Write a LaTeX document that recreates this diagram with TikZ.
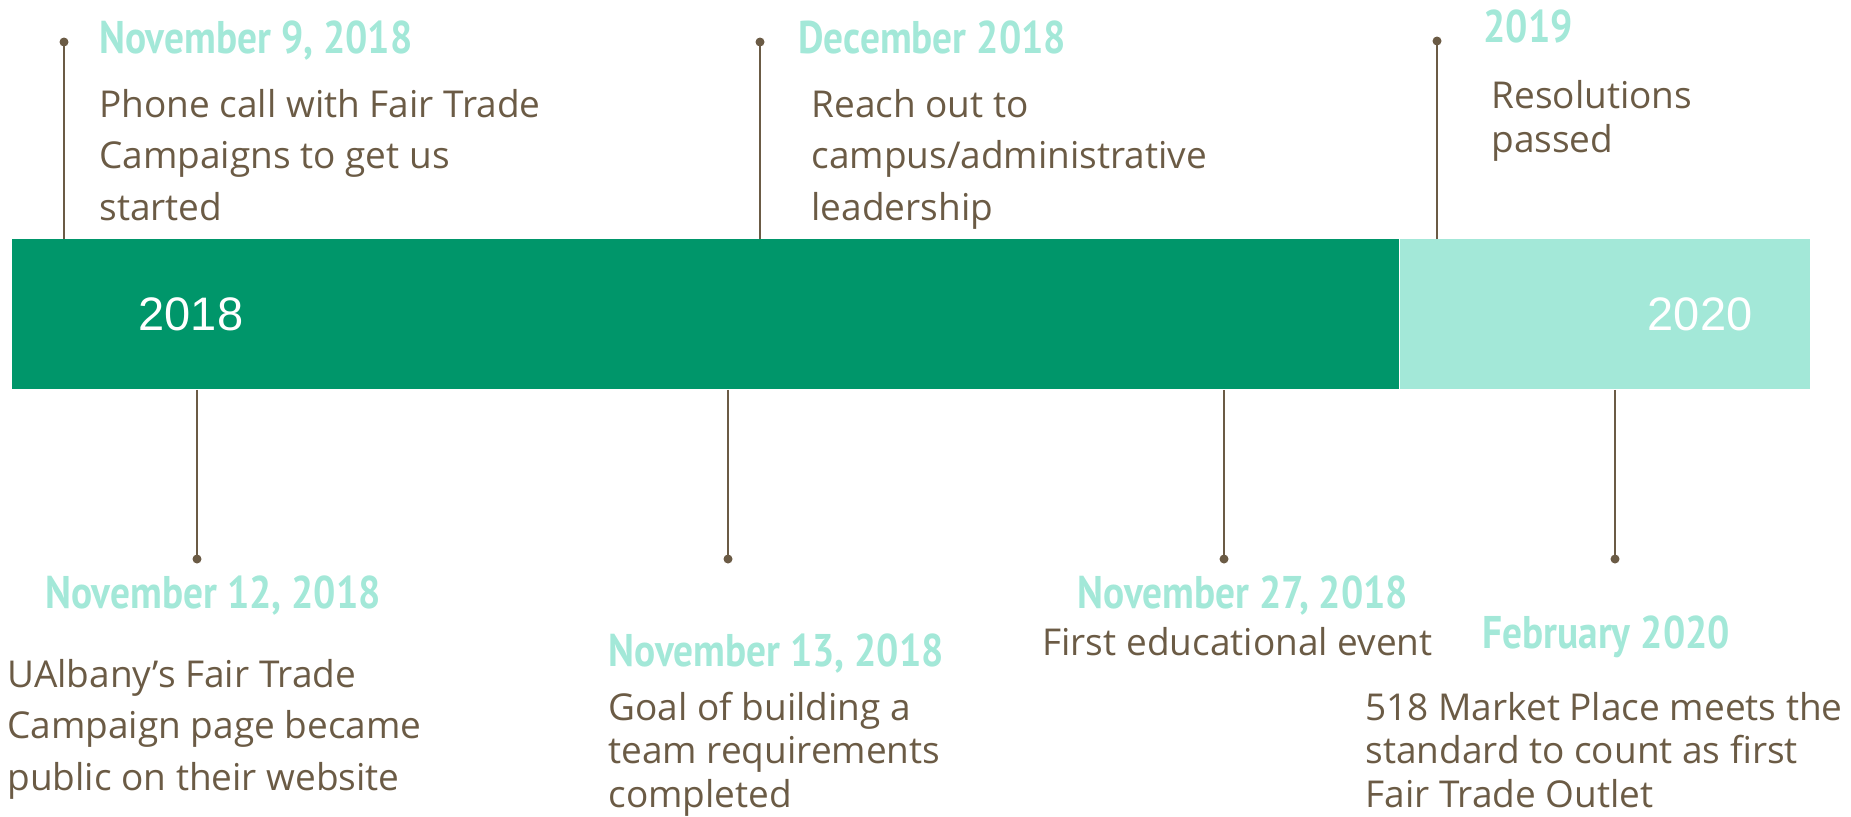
\documentclass[tikz,border=0pt]{standalone}
\usepackage{fontspec}
\setmainfont{Open Sans}
\newfontfamily\datefont{PT Sans}[FakeStretch=0.86]
\newfontfamily\yearfont{Liberation Sans}
\usepackage{tikz}

\definecolor{ftgreen}{RGB}{0,150,106}
\definecolor{ftmint}{RGB}{163,232,216}
\definecolor{ftbrown}{RGB}{107,91,69}

\begin{document}
\begin{tikzpicture}[x=0.5pt, y=-0.5pt,
    datelbl/.style={anchor=base west, inner sep=0pt, text=ftmint, font=\datefont\bfseries\fontsize{22.9}{26}\selectfont},
    desc/.style={anchor=base west, inner sep=0pt, text=ftbrown, align=left, font=\fontsize{18.5}{25.75}\selectfont},
    desctight/.style={desc, font=\fontsize{18.5}{21.75}\selectfont},
    stem/.style={ftbrown, line width=1.25pt},
    dot/.style={circle, fill=ftbrown, inner sep=0pt, minimum size=4.5pt}]
    \useasboundingbox (0,0) rectangle (1851,816);

    % Bar: 2018 (dark) and 2020 (light)
    \node[fill=ftgreen, inner sep=0pt, minimum width=693.5pt, minimum height=75pt, anchor=north west] (bar18) at (12,239) {};
    \node[fill=ftmint, inner sep=0pt, minimum width=205pt, minimum height=75pt, anchor=north west] (bar20) at (bar18.north east) {};
    \node[text=white, font=\yearfont\fontsize{23.5}{26}\selectfont] (y18) at (191,314) {2018};
    \node[text=white, font=\yearfont\fontsize{23.5}{26}\selectfont] (y20) at (1700,314) {2020};

    % Dots at the ends of the stems
    \node[dot] (t1) at (64,42) {};
    \node[dot] (t2) at (760,42) {};
    \node[dot] (t3) at (1437,41) {};
    \node[dot] (b1) at (197,559) {};
    \node[dot] (b2) at (728,559) {};
    \node[dot] (b3) at (1224,559) {};
    \node[dot] (b4) at (1615,559) {};

    % Stems from the bar
    \draw[stem] (bar18.north -| t1) -- (t1.center);
    \draw[stem] (bar18.north -| t2) -- (t2.center);
    \draw[stem] (bar20.north -| t3) -- (t3.center);
    \draw[stem] (bar18.south -| b1) -- (b1.center);
    \draw[stem] (bar18.south -| b2) -- (b2.center);
    \draw[stem] (bar18.south -| b3) -- (b3.center);
    \draw[stem] (bar20.south -| b4) -- (b4.center);

    % Events above the bar (text nodes sit on the baseline of their last line)
    \node[datelbl] (d1) at (99,53) {November 9, 2018};
    \node[desc] (e1) at (99,220) {Phone call with Fair Trade\\Campaigns to get us\\started};
    \node[datelbl] (d2) at (798,53) {December 2018};
    \node[desc] (e2) at (811,220) {Reach out to\\campus/administrative\\leadership};
    \node[datelbl] (d3) at (1483,42) {2019};
    \node[desctight] (e3) at (1491,152) {Resolutions\\passed};

    % Events below the bar
    \node[datelbl] (d4) at (45,608) {November 12, 2018};
    \node[desc] (e4) at (7,790) {UAlbany’s Fair Trade\\Campaign page became\\public on their website};
    \node[datelbl] (d5) at (608,666) {November 13, 2018};
    \node[desctight] (e5) at (608,807) {Goal of building a\\team requirements\\completed};
    \node[datelbl] (d6) at (1077,608) {November 27, 2018};
    \node[desc] (e6) at (1042,655) {First educational event};
    \node[datelbl] (d7) at (1482,648) {February 2020};
    \node[desctight] (e7) at (1365,807) {518 Market Place meets the\\standard to count as first\\Fair Trade Outlet};
\end{tikzpicture}
\end{document}
